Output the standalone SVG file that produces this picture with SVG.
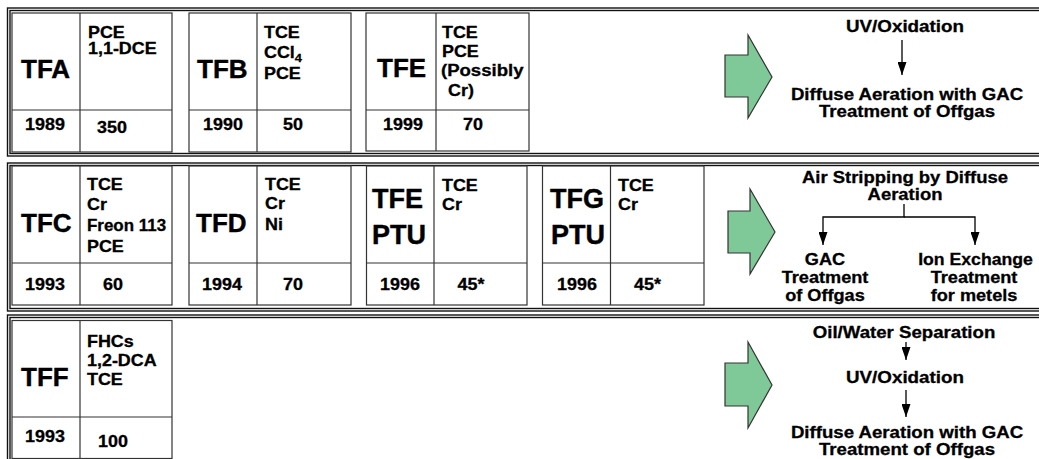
<svg xmlns="http://www.w3.org/2000/svg" width="1039" height="459" viewBox="0 0 1039 459">
<style>
.frame{fill:none;stroke:#111;stroke-width:1.4}
.box{fill:#fff;stroke:#333;stroke-width:1.2}
.div{stroke:#333;stroke-width:1.2}
text{font-family:"Liberation Sans",Arial,sans-serif;font-weight:bold;fill:#000;stroke:#000;stroke-width:0.3}
.big{font-size:26px;stroke-width:0.4}
.ptu{font-size:27px;stroke-width:0.4}
.lab{font-size:16px}
.num{font-size:16px;text-anchor:middle}
.flow{font-size:16.5px;text-anchor:middle}
.barrow{fill:#7fc898;stroke:#333;stroke-width:1.2}
.conn{fill:none;stroke:#000;stroke-width:1.3}
</style>
<defs>
<marker id="ahd" markerUnits="userSpaceOnUse" markerWidth="13" markerHeight="9" refX="13" refY="4.5" orient="auto">
<path d="M0,0 L13,4.5 L0,9 z" fill="#000"/>
</marker>
</defs>

<g id="frames">
<rect class="frame" x="7.5" y="8" width="1045" height="148"/>
<rect class="frame" x="10" y="10.5" width="1040" height="143"/>
<rect class="frame" x="7.5" y="163" width="1045" height="148"/>
<rect class="frame" x="10" y="165.5" width="1040" height="143"/>
<rect class="frame" x="7.5" y="315" width="1045" height="160"/>
<rect class="frame" x="10" y="317.5" width="1040" height="160"/>
</g>

<g id="TFA">
<rect class="box" x="12" y="13" width="160" height="139"/>
<line class="div" x1="80" y1="13" x2="80" y2="152"/>
<line class="div" x1="12" y1="110" x2="172" y2="110"/>
<text class="big" x="21" y="78">TFA</text>
<text class="lab" transform="translate(88,37.5) scale(1.12,1)">PCE</text>
<text class="lab" transform="translate(88,54) scale(1.12,1)">1,1-DCE</text>
<text class="num" transform="translate(45,130) scale(1.12,1)">1989</text>
<text class="num" transform="translate(112,133) scale(1.12,1)">350</text>
</g>

<g id="TFB">
<rect class="box" x="189" y="13" width="162" height="139"/>
<line class="div" x1="257" y1="13" x2="257" y2="152"/>
<line class="div" x1="189" y1="110" x2="351" y2="110"/>
<text class="big" x="197" y="78">TFB</text>
<text class="lab" transform="translate(264,38) scale(1.12,1)">TCE</text>
<text class="lab" transform="translate(264,58) scale(1.12,1)">CCl<tspan font-size="11.5" dy="4">4</tspan></text>
<text class="lab" transform="translate(264,79) scale(1.12,1)">PCE</text>
<text class="num" transform="translate(223,130) scale(1.12,1)">1990</text>
<text class="num" transform="translate(293,130) scale(1.12,1)">50</text>
</g>

<g id="TFE1">
<rect class="box" x="366" y="13" width="163" height="138"/>
<line class="div" x1="436" y1="13" x2="436" y2="151"/>
<line class="div" x1="366" y1="110" x2="529" y2="110"/>
<text class="big" x="377" y="77">TFE</text>
<text class="lab" transform="translate(442,38) scale(1.12,1)">TCE</text>
<text class="lab" transform="translate(442,57) scale(1.12,1)">PCE</text>
<text class="lab" transform="translate(441,76) scale(1.16,1)">(Possibly</text>
<text class="lab" transform="translate(448,96) scale(1.12,1)">Cr)</text>
<text class="num" transform="translate(403,130) scale(1.12,1)">1999</text>
<text class="num" transform="translate(473,130) scale(1.12,1)">70</text>
</g>

<g id="TFC">
<rect class="box" x="12" y="166" width="160" height="139"/>
<line class="div" x1="80" y1="166" x2="80" y2="305"/>
<line class="div" x1="12" y1="263" x2="172" y2="263"/>
<text class="big" x="21" y="232">TFC</text>
<text class="lab" transform="translate(87,190) scale(1.12,1)">TCE</text>
<text class="lab" transform="translate(87,210) scale(1.12,1)">Cr</text>
<text class="lab" transform="translate(87,231) scale(1.06,1)">Freon 113</text>
<text class="lab" transform="translate(87,252) scale(1.12,1)">PCE</text>
<text class="num" transform="translate(45,290) scale(1.12,1)">1993</text>
<text class="num" transform="translate(113,290) scale(1.12,1)">60</text>
</g>

<g id="TFD">
<rect class="box" x="189" y="166" width="162" height="139"/>
<line class="div" x1="257" y1="166" x2="257" y2="305"/>
<line class="div" x1="189" y1="263" x2="351" y2="263"/>
<text class="big" x="196" y="232">TFD</text>
<text class="lab" transform="translate(265,190) scale(1.12,1)">TCE</text>
<text class="lab" transform="translate(265,209) scale(1.12,1)">Cr</text>
<text class="lab" transform="translate(265,230) scale(1.12,1)">Ni</text>
<text class="num" transform="translate(222,290) scale(1.12,1)">1994</text>
<text class="num" transform="translate(293,290) scale(1.12,1)">70</text>
</g>

<g id="TFE-PTU">
<rect class="box" x="366.5" y="166" width="160.5" height="139"/>
<line class="div" x1="434" y1="166" x2="434" y2="305"/>
<line class="div" x1="366.5" y1="263" x2="527" y2="263"/>
<text class="ptu" x="372" y="208">TFE</text>
<text class="ptu" x="372" y="244">PTU</text>
<text class="lab" transform="translate(442,190.5) scale(1.12,1)">TCE</text>
<text class="lab" transform="translate(442,210) scale(1.12,1)">Cr</text>
<text class="num" transform="translate(400,290) scale(1.12,1)">1996</text>
<text class="num" transform="translate(471,290) scale(1.12,1)">45*</text>
</g>

<g id="TFG-PTU">
<rect class="box" x="542.5" y="166" width="161.5" height="139"/>
<line class="div" x1="610.5" y1="166" x2="610.5" y2="305"/>
<line class="div" x1="542.5" y1="263" x2="704" y2="263"/>
<text class="ptu" x="550" y="208">TFG</text>
<text class="ptu" x="551" y="244">PTU</text>
<text class="lab" transform="translate(618,190.5) scale(1.12,1)">TCE</text>
<text class="lab" transform="translate(618,210) scale(1.12,1)">Cr</text>
<text class="num" transform="translate(577,290) scale(1.12,1)">1996</text>
<text class="num" transform="translate(647.5,290) scale(1.12,1)">45*</text>
</g>

<g id="TFF">
<rect class="box" x="12" y="320.5" width="160" height="138"/>
<line class="div" x1="80" y1="320.5" x2="80" y2="458.5"/>
<line class="div" x1="12" y1="417" x2="172" y2="417"/>
<text class="big" x="21" y="386">TFF</text>
<text class="lab" transform="translate(87,346.5) scale(1.12,1)">FHCs</text>
<text class="lab" transform="translate(87,366) scale(1.12,1)">1,2-DCA</text>
<text class="lab" transform="translate(87,385) scale(1.12,1)">TCE</text>
<text class="num" transform="translate(45,441.5) scale(1.12,1)">1993</text>
<text class="num" transform="translate(113,446.5) scale(1.12,1)">100</text>
</g>

<g id="arrow1"><polygon class="barrow" points="725,55 748,55 748,35 772,77 748,118 748,97 725,97"/></g>
<g id="arrow2"><polygon class="barrow" points="728,211 750,211 750,189 775,232 750,274 750,253 728,253"/></g>
<g id="arrow3"><polygon class="barrow" points="725,363 748,363 748,342 772,385 748,428 748,406 725,406"/></g>

<g id="r1-uv"><text class="flow" transform="translate(905,32) scale(1.14,1)">UV/Oxidation</text></g>
<g id="r1-diffuse"><text class="flow" transform="translate(907,100) scale(1.13,1)">Diffuse Aeration with GAC</text><text class="flow" transform="translate(907,117) scale(1.13,1)">Treatment of Offgas</text></g>

<g id="r2-air"><text class="flow" transform="translate(905,182.5) scale(1.12,1)">Air Stripping by Diffuse</text><text class="flow" transform="translate(905,200) scale(1.12,1)">Aeration</text></g>
<g id="r2-gac"><text class="flow" transform="translate(825,265) scale(1.1,1)">GAC</text><text class="flow" transform="translate(825,282.5) scale(1.1,1)">Treatment</text><text class="flow" transform="translate(825,300.5) scale(1.1,1)">of Offgas</text></g>
<g id="r2-ion"><text class="flow" transform="translate(975.5,265) scale(1.07,1)">Ion Exchange</text><text class="flow" transform="translate(974,282.5) scale(1.1,1)">Treatment</text><text class="flow" transform="translate(974,300.5) scale(1.1,1)">for metels</text></g>

<g id="r3-oil"><text class="flow" transform="translate(904,338) scale(1.13,1)">Oil/Water Separation</text></g>
<g id="r3-uv"><text class="flow" transform="translate(905,383) scale(1.14,1)">UV/Oxidation</text></g>
<g id="r3-diffuse"><text class="flow" transform="translate(907,438) scale(1.13,1)">Diffuse Aeration with GAC</text><text class="flow" transform="translate(907,455) scale(1.13,1)">Treatment of Offgas</text></g>

<g id="connectors">
<path class="conn" d="M902,40 V75" marker-end="url(#ahd)"/>
<path class="conn" d="M904,204 V217 H823 V245" marker-end="url(#ahd)"/>
<path class="conn" d="M904,217 H975 V245" marker-end="url(#ahd)"/>
<path class="conn" d="M906,342 V360" marker-end="url(#ahd)"/>
<path class="conn" d="M906,390 V417" marker-end="url(#ahd)"/>
</g>
</svg>
